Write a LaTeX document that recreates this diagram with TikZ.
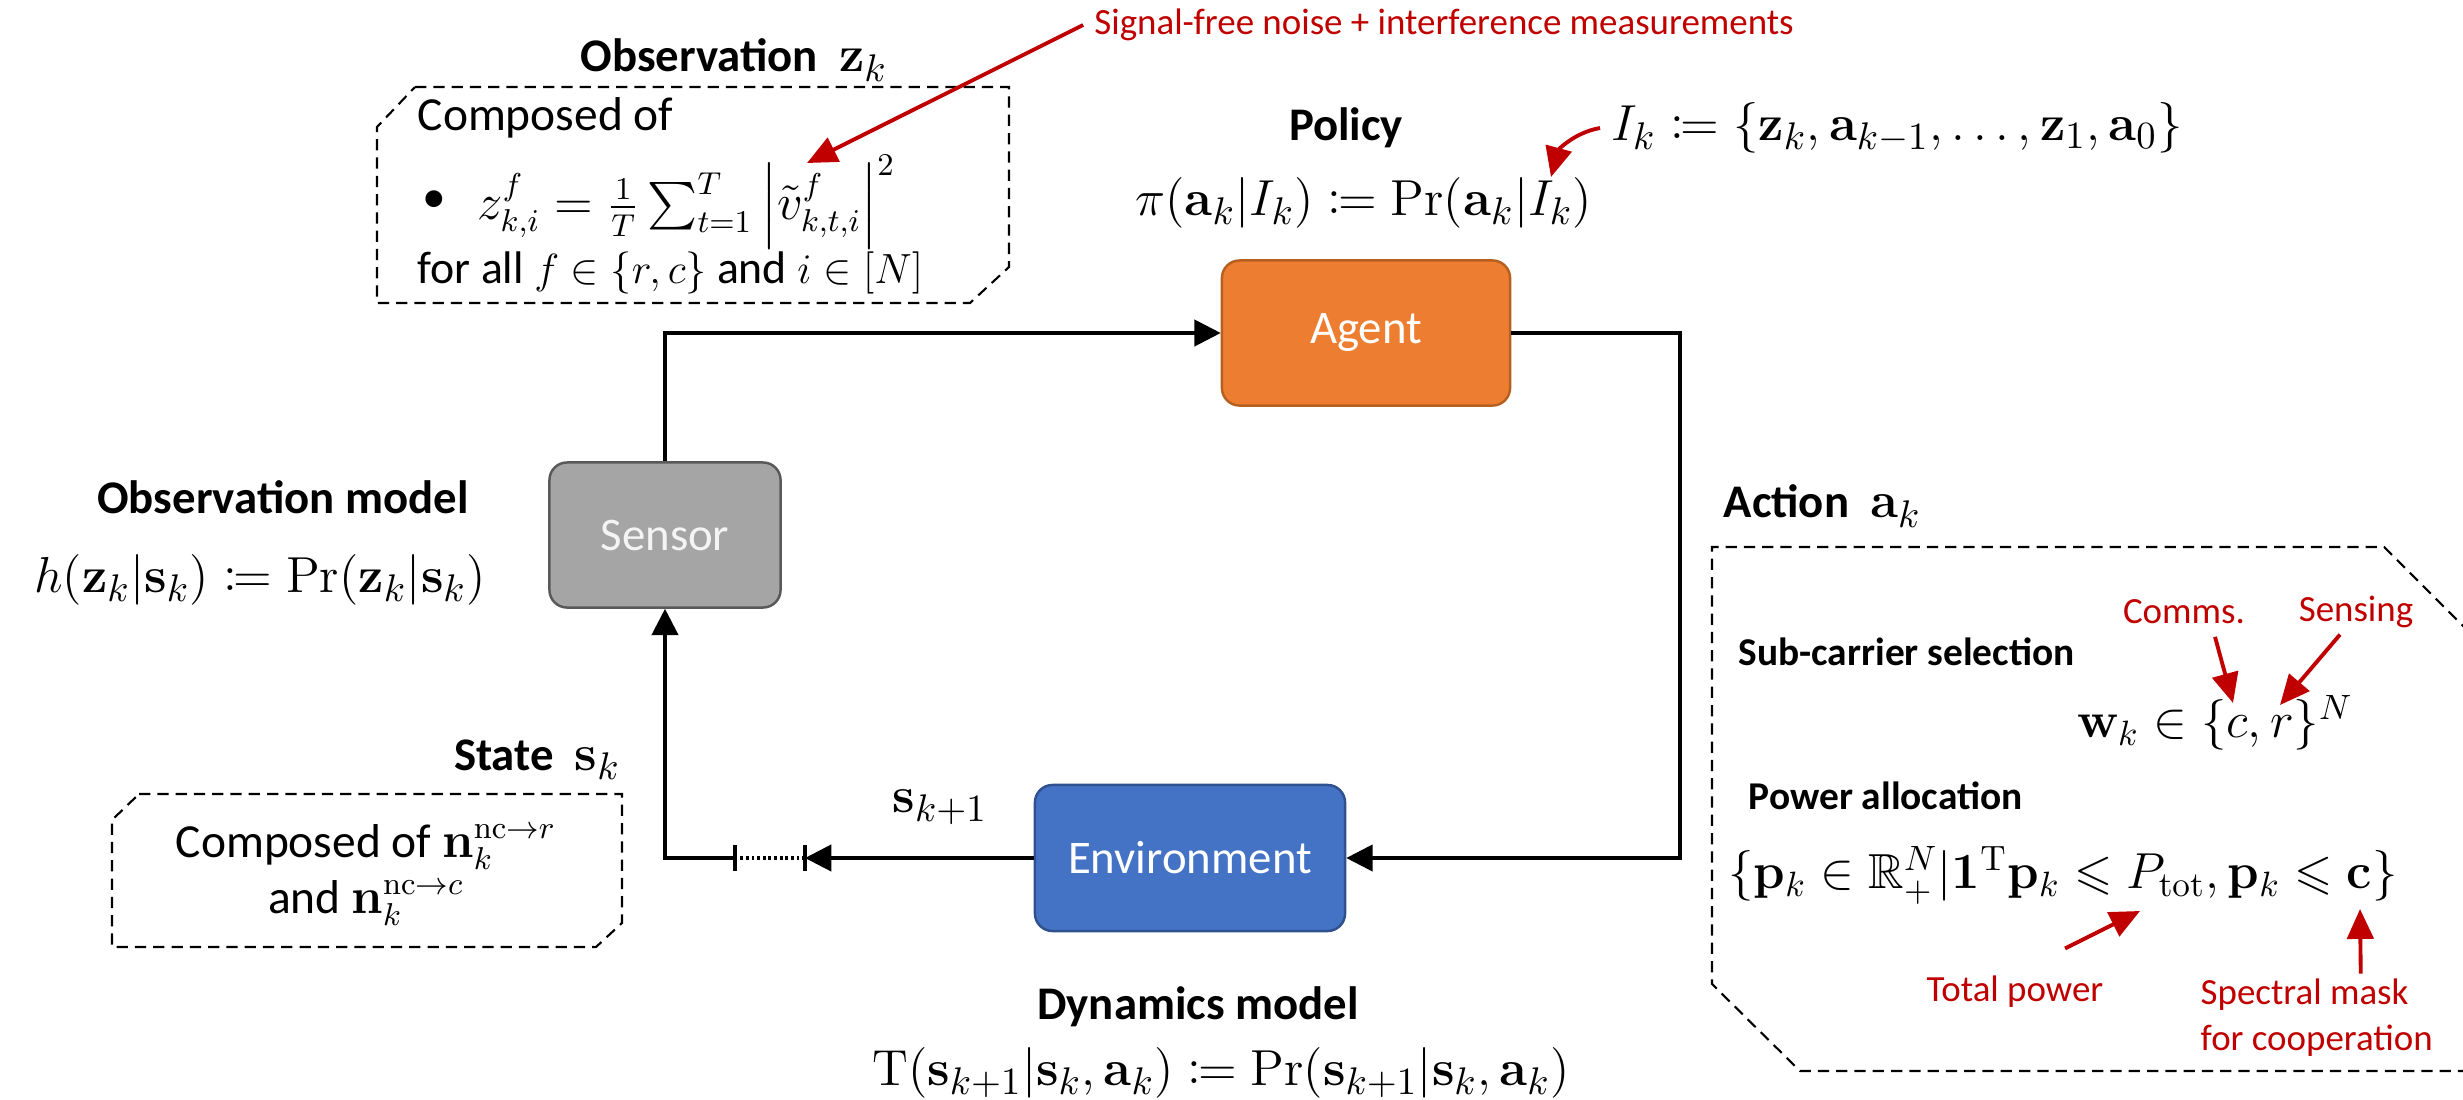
\documentclass[tikz,border=0pt]{standalone}
\usepackage[no-math]{fontspec}
\setmainfont{Carlito}
\usepackage{mathtools,amssymb}
\usetikzlibrary{arrows.meta,calc}
\definecolor{annotred}{HTML}{C00000}
\definecolor{sensorfill}{HTML}{A5A5A5}
\definecolor{sensorline}{HTML}{595959}
\definecolor{sensortext}{HTML}{F4F4F4}
\definecolor{agentfill}{HTML}{ED7D31}
\definecolor{agentline}{HTML}{B5601F}
\definecolor{envfill}{HTML}{4472C4}
\definecolor{envline}{HTML}{2F528F}
\newcommand\mathbig{\fontsize{15}{18}\selectfont}
\tikzset{
  block/.style={rounded corners=5pt, line width=0.7pt, text=white,
    font=\fontsize{13.3}{16}\selectfont, minimum height=1.45cm, inner sep=0pt},
  flow/.style={line width=0.9pt, -{Triangle[length=7.5pt,width=7.5pt]}},
  wire/.style={line width=0.9pt},
  annot/.style={draw=annotred, line width=1.1pt, -{Triangle[length=8.5pt,width=7.5pt]}},
  dashframe/.style={line width=0.6pt, dash pattern=on 3.2pt off 2pt},
  heading/.style={inner sep=0pt, font=\fontsize{13.3}{16}\selectfont\bfseries},
  subheading/.style={inner sep=0pt, font=\fontsize{11.2}{13}\selectfont\bfseries},
  formula/.style={inner sep=0pt, font=\mathbig},
  smallformula/.style={inner sep=0pt, font=\fontsize{14}{17}\selectfont},
  boxtext/.style={inner sep=0pt, font=\fontsize{13.5}{16}\selectfont},
  redtext/.style={inner sep=0pt, text=annotred, font=\fontsize{10.5}{13}\selectfont},
}
\begin{document}
\begin{tikzpicture}[x=0.01cm, y=-0.01cm]
\useasboundingbox (0,0) rectangle (2463,1100);

% ---- loop blocks ----
\node[block, fill=sensorfill, draw=sensorline, text=sensortext, minimum width=2.31cm] (sensor) at (665,535) {Sensor};
\node[block, fill=agentfill, draw=agentline, minimum width=2.88cm] (agent) at (1366,333) {Agent};
\node[block, fill=envfill, draw=envline, minimum width=3.10cm, minimum height=1.46cm] (env) at (1190,858) {Environment};

% ---- loop connectors ----
\coordinate (xr) at (1680,600);
\coordinate (bR) at (805,858);
\coordinate (bL) at (735,858);
\draw[flow] (sensor.north) |- (agent.west);
\draw[flow] (agent.east) -| (xr) |- (env.east);
\draw[flow] (env.west) -- (bR);
\draw[wire, dash pattern=on 0.8pt off 0.8pt] (bR) -- (bL);
\draw[wire] ($(bR)+(0,-13)$) -- ($(bR)+(0,13)$);
\draw[wire] ($(bL)+(0,-13)$) -- ($(bL)+(0,13)$);
\draw[flow] (bL) -| (sensor.south);

% ---- observation ----
\node[heading] (obshd) at (734,60) {Observation\hspace{6pt}{\mathbig$\mathbf{z}_k$}};
\draw[dashframe] (415,87) -- (1009,87) -- (1009,267) -- (970,303) -- (377,303) -- (377,127) -- cycle;
\node[boxtext, anchor=west] (obs1) at (417,118) {Composed of};
\node[boxtext, anchor=west] (obsb) at (422,202) {\textbullet};
\node[boxtext, anchor=west] (obs2) at (477,202) {$z^{f}_{k,i}=\frac{1}{T}\sum_{t=1}^{T}\left|\tilde{v}^{f}_{k,t,i}\right|^{2}$};
\node[boxtext, anchor=west, font=\fontsize{13}{16}\selectfont] (obs3) at (417,273) {for all $f\in\{r,c\}$ and $i\in[N]$};

\node[redtext] (sig) at (1444,25) {Signal-free noise + interference measurements};
\coordinate (vtip) at (807,163);
\draw[annot] ([xshift=-3pt]sig.west) -- (vtip);

% ---- policy ----
\node[heading] (polhd) at (1346,128) {Policy};
\node[formula] (polf) at (1364,203) {$\pi(\mathbf{a}_k|I_k)\coloneqq\Pr(\mathbf{a}_k|I_k)$};
\node[formula] (info) at (1897,128) {$I_k\coloneqq\{\mathbf{z}_k,\mathbf{a}_{k-1},\ldots,\mathbf{z}_1,\mathbf{a}_0\}$};
\coordinate (itip) at (1551,177);
\draw[annot] ([xshift=-3pt]info.west) to[out=190,in=75] (itip);

% ---- observation model ----
\node[heading] (omhd) at (283,497) {Observation model};
\node[formula] (omf) at (260,580) {$h(\mathbf{z}_k|\mathbf{s}_k)\coloneqq\Pr(\mathbf{z}_k|\mathbf{s}_k)$};

% ---- state ----
\node[heading, anchor=east] (sthd) at (621,760) {State\hspace{6pt}{\mathbig$\mathbf{s}_k$}};
\draw[dashframe] (139,794) -- (622,794) -- (622,923) -- (596,947) -- (112,947) -- (112,820) -- cycle;
\node[boxtext, align=center] (sttx) at (366,875) {Composed of $\mathbf{n}_k^{\mathrm{nc}\to r}$\\and $\mathbf{n}_k^{\mathrm{nc}\to c}$};
\node[formula] (snext) at (940,807) {$\mathbf{s}_{k+1}$};

% ---- dynamics ----
\node[heading] (dmhd) at (1198,1007) {Dynamics model};
\node[formula] (dmf) at (1221,1073) {$\mathrm{T}(\mathbf{s}_{k+1}|\mathbf{s}_k,\mathbf{a}_k)\coloneqq\Pr(\mathbf{s}_{k+1}|\mathbf{s}_k,\mathbf{a}_k)$};

% ---- action ----
\node[heading, anchor=west] (acthd) at (1723,506) {Action\hspace{6pt}{\mathbig$\mathbf{a}_k$}};
\begin{scope}
\clip (0,0) rectangle (2463,1100);
\draw[dashframe] (2560,723) -- (2384,547) -- (1712,547) -- (1712,984) -- (1800,1071) -- (2560,1071);
\end{scope}
\node[subheading, anchor=west] (subhd) at (1738,652) {Sub-carrier selection};
\node[redtext] (comms) at (2184,612) {Comms.};
\node[redtext] (sens) at (2356,612) {Sensing};
\node[smallformula] (wf) at (2215,723) {$\mathbf{w}_k\in\{c,r\}^N$};
\coordinate (ctip) at (2233,703);
\coordinate (rtip) at (2280,705);
\draw[annot] ($(comms.south)+(31,12)$) -- (ctip);
\draw[annot] ($(sens.south)+(-16,6)$) -- (rtip);

\node[subheading, anchor=west] (powhd) at (1748,796) {Power allocation};
\node[smallformula] (pf) at (2063,875) {$\{\mathbf{p}_k\in\mathbb{R}_{+}^{N}|\mathbf{1}^{\mathrm{T}}\mathbf{p}_k\leqslant P_{\mathrm{tot}},\mathbf{p}_k\leqslant\mathbf{c}\}$};
\node[redtext] (totp) at (2015,992) {Total power};
\node[redtext, align=left, anchor=west] (spec) at (2200,1018) {Spectral mask\\for cooperation};
\coordinate (ttip) at (2140,911);
\coordinate (stip) at (2360,909);
\draw[annot] ($(totp.north)+(50,-27)$) -- (ttip);
\draw[annot] ($(spec.north)+(44,-5)$) -- (stip);
\end{tikzpicture}
\end{document}
